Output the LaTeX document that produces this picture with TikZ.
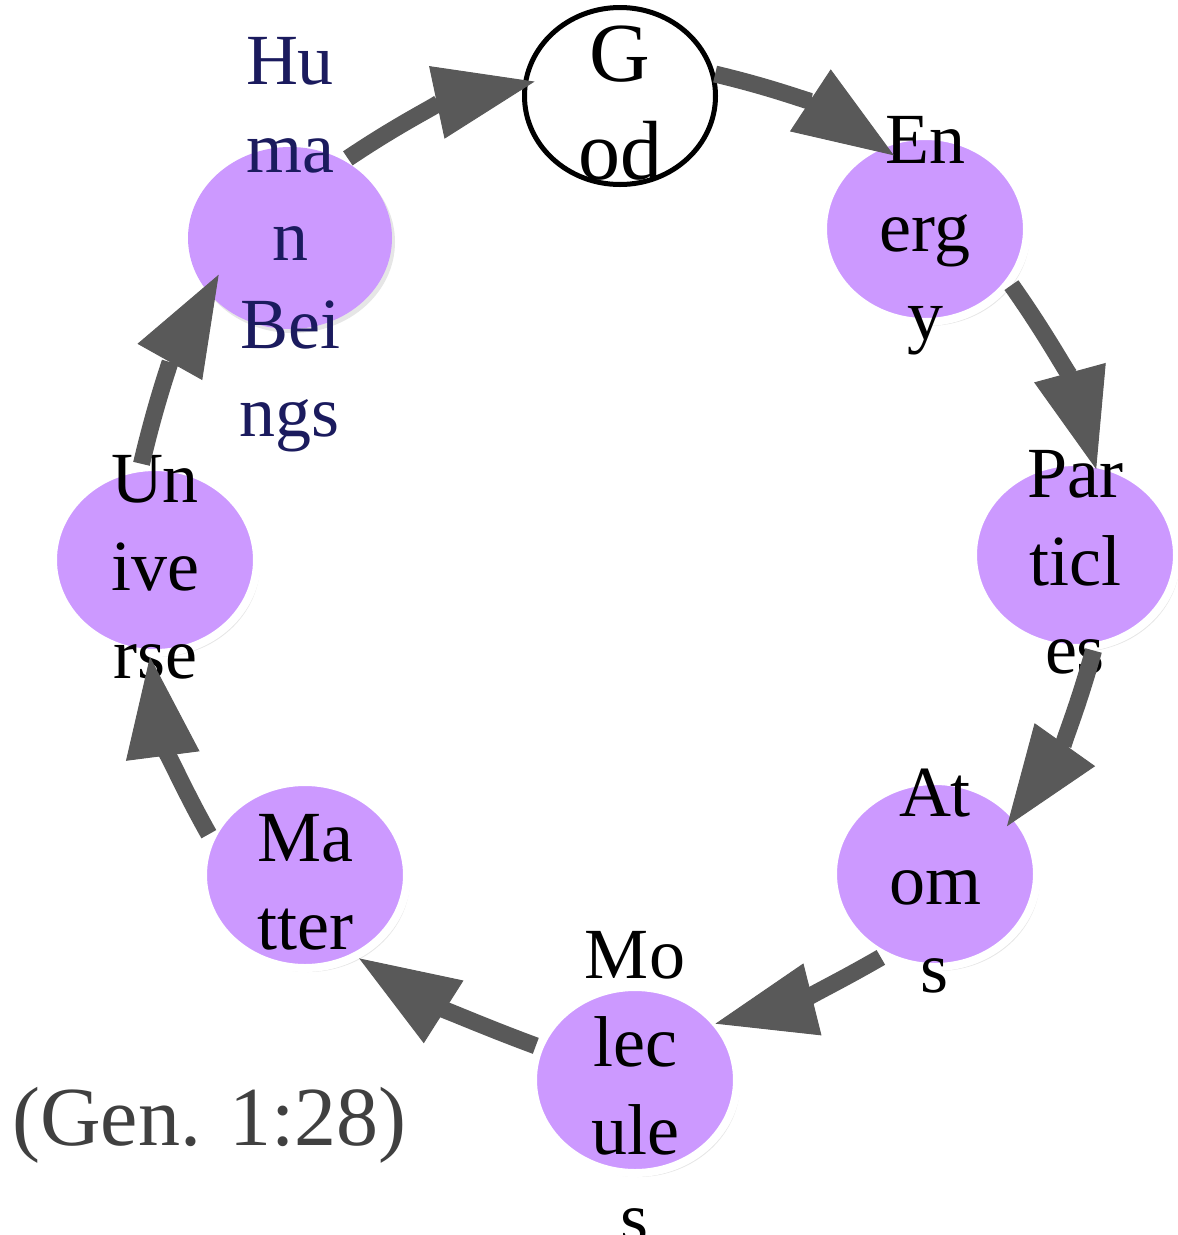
\documentclass[tikz,border=0pt]{standalone}
\usepackage{fontspec}
\setmainfont{Liberation Serif}
\usepackage{xcolor}
\usetikzlibrary{arrows.meta,shapes.geometric,shadows}

\definecolor{lilac}{HTML}{CC99FF}
\definecolor{arrowgray}{HTML}{595959}
\definecolor{navy}{HTML}{1B1B5E}
\definecolor{textgray}{HTML}{404040}

\begin{document}
\begin{tikzpicture}[x=1pt,y=-1pt]
		\tikzstyle{bubble}=[ellipse,fill=lilac,draw=white,line width=8pt,minimum width=204pt,minimum height=186pt,
			drop shadow={shadow xshift=3pt,shadow yshift=-4pt,opacity=0.2}]
		\tikzstyle{bare}=[bubble,draw=none,minimum width=204pt,minimum height=182pt]
		\tikzstyle{ring}=[ellipse,fill=white,draw=black,line width=5pt,minimum width=191pt,minimum height=177pt]
		\tikzstyle{word}=[align=center,inner sep=0pt,yshift=-7pt,font=\fontsize{72}{88}\selectfont]
		\tikzstyle{note}=[inner sep=0pt,text=textgray,font=\fontsize{84}{90}\selectfont]
		\tikzstyle{flow}=[color=arrowgray,line width=17pt,-{Triangle[length=100pt,width=74pt,line width=1pt]}]
		
		\useasboundingbox (0,0) rectangle (1178,1235);
		
		\node[ring]   (god)       at (620,96)   {};
		\node[bubble] (energy)    at (925,229)  {};
		\node[bubble] (particles) at (1075,555) {};
		\node[bubble] (atoms)     at (935,874)  {};
		\node[bubble] (molecules) at (635,1080) {};
		\node[bubble] (matter)    at (305,875)  {};
		\node[bubble] (universe)  at (155,560)  {};
		\node[bare]   (human)     at (290,238)  {};
		
		\node[word,font=\fontsize{84}{98}\selectfont] (god-t) at (god) {G\\od};
		\node[word]           (energy-t)    at (energy)    {En\\erg\\y};
		\node[word]           (particles-t) at (particles) {Par\\ticl\\es};
		\node[word]           (atoms-t)     at (atoms)     {At\\om\\s};
		\node[word]           (molecules-t) at (molecules) {Mo\\lec\\ule\\s};
		\node[word]           (matter-t)    at (matter)    {Ma\\tter};
		\node[word]           (universe-t)  at (universe)  {Un\\ive\\rse};
		\node[word,text=navy] (human-t)     at (human)     {Hu\\ma\\n\\Bei\\ngs};
		
		\node[note,anchor=base west] (gen) at (12,1145) {(Gen. 1:28)};
		
		\path[flow]
		(human.54)      edge [bend left=11,shorten >=-12pt] (god.173)
		(god.13)        edge [bend left=10,shorten >=-22pt] (energy.120)
		(energy.-33)    edge [bend left=10,shorten >=-10pt] (particles.79)
		(particles.-79) edge [bend left=10,shorten >=-17pt] (atoms.37)
		(atoms.-123)    edge [bend left=8,shorten >=-5pt]   (molecules.34)
		(molecules.161) edge [bend left=6]                  (matter.-57)
		(matter.157)    edge [bend left=11]                 (universe.-93)
		(universe.98)   edge [bend left=8,shorten >=-25pt]  (human.-145);
		
\end{tikzpicture}
\end{document}
